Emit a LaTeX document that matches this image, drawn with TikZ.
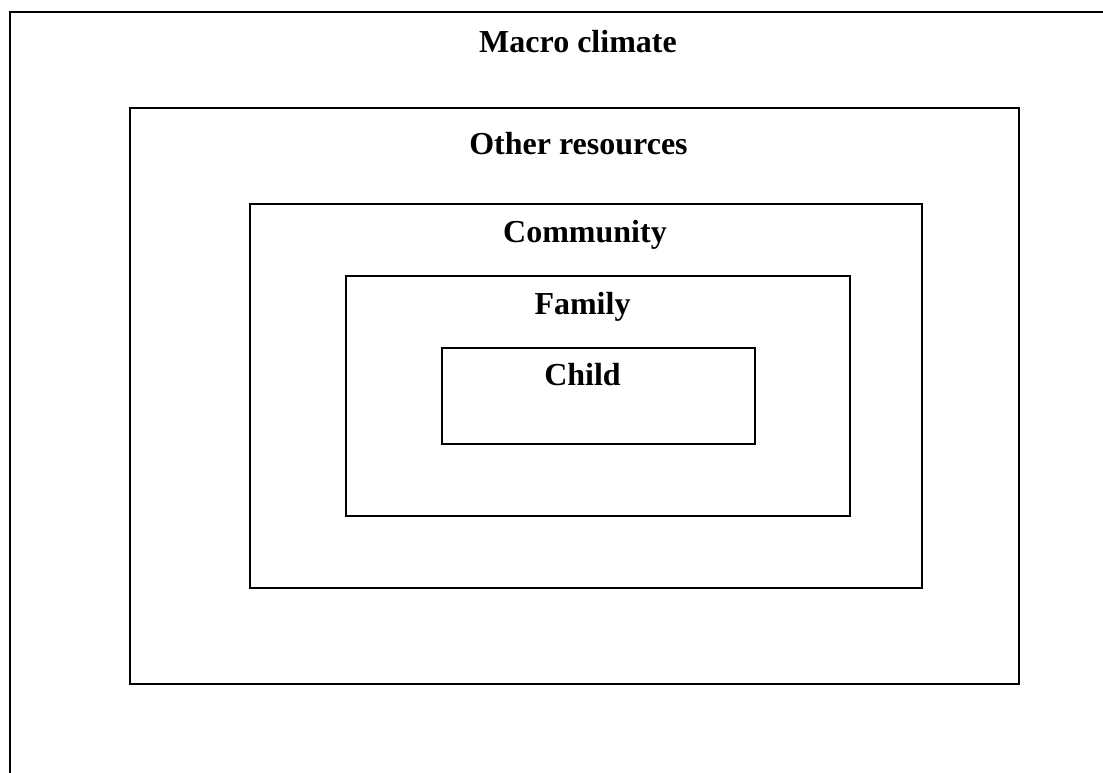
\documentclass[tikz,border=0pt]{standalone}
\usepackage{fontspec}
\setmainfont{Liberation Serif}
\usepackage{tikz}
\usetikzlibrary{positioning}

\tikzset{
    layer/.style={draw=black, line width=1pt},
    layerlabel/.style={font=\fontsize{24}{28}\selectfont\bfseries, inner sep=0pt, anchor=base}
}

\begin{document}
\begin{tikzpicture}[x=0.75pt, y=-0.75pt]
            \useasboundingbox (0,0) rectangle (1103,773);
            \clip (0,0) rectangle (1103,773);
            % nested layers, outermost first
            \draw[layer] (10,12) rectangle (1130,800);
            \draw[layer] (130,108) rectangle (1019,684);
            \draw[layer] (250,204) rectangle (922,588);
            \draw[layer] (346,276) rectangle (850,516);
            \draw[layer] (442,348) rectangle (755,444);
            \node[layerlabel] (macro) at (578,53) {Macro climate};
            \node[layerlabel] (other) at (578.5,155) {Other resources};
            \node[layerlabel] (community) at (585,243) {Community};
            \node[layerlabel] (family) at (582.5,315) {Family};
            \node[layerlabel] (child) at (582.5,386) {Child};
        \end{tikzpicture}
\end{document}
